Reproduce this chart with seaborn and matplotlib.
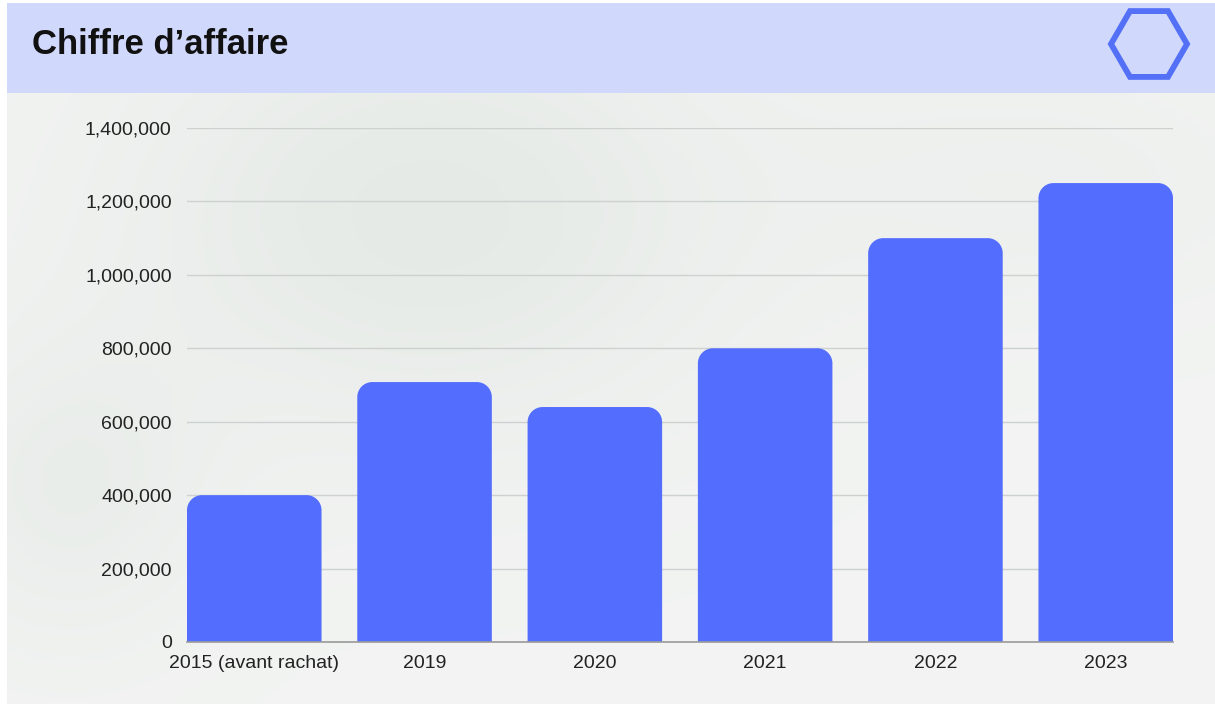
import numpy as np
import pandas as pd
import matplotlib
matplotlib.use("Agg")
import matplotlib.pyplot as plt
import seaborn as sns
from matplotlib.path import Path
from matplotlib.patches import PathPatch, Rectangle, RegularPolygon
from matplotlib.ticker import FuncFormatter

categories = ["2015 (avant rachat)", "2019", "2020", "2021", "2022", "2023"]
values = [400000, 708000, 640000, 800000, 1100000, 1250000]
yticks = [0, 200000, 400000, 600000, 800000, 1000000, 1200000, 1400000]
title = "Chiffre d\u2019affaire"

W, H, DPI = 1215, 709, 100
sns.set_theme(style="white")
plt.rcParams["font.family"] = ["Liberation Sans", "DejaVu Sans"]

fig = plt.figure(figsize=(W / DPI, H / DPI), dpi=DPI, facecolor="white")

# background texture (decorative)
bg = fig.add_axes([7 / W, 5 / H, (W - 7) / W, (H - 93 - 5) / H])
bg.set_axis_off()
yy, xx = np.mgrid[0:1:300j, 0:1:600j]
field = (0.55 * np.exp(-(((xx - 0.35) / 0.25) ** 2 + ((yy - 0.8) / 0.35) ** 2))
         + 0.35 * np.exp(-(((xx - 0.05) / 0.12) ** 2 + ((yy - 0.35) / 0.25) ** 2))
         + 0.2 * np.exp(-(((xx - 0.85) / 0.2) ** 2 + ((yy - 0.85) / 0.2) ** 2)))
base = np.array([0.950, 0.955, 0.950])
dark = np.array([0.860, 0.890, 0.870])
img = base[None, None, :] * (1 - field[..., None]) + dark[None, None, :] * field[..., None]
bg.imshow(np.clip(img, 0, 1), aspect="auto", origin="lower", extent=[0, 1, 0, 1])

# header band
fig.patches.append(Rectangle((7 / W, (H - 93) / H), (W - 7) / W, 90 / H,
                             transform=fig.transFigure, facecolor="#d0d8fc",
                             edgecolor="none", zorder=-1))
fig.text(32 / W, (H - 45) / H, title, fontsize=25, fontweight="bold",
         color="#111111", va="center", ha="left", zorder=5)
hexax = fig.add_axes([0, 0, 1, 1], zorder=5)
hexax.patch.set_alpha(0)
hexax.set_xlim(0, W)
hexax.set_ylim(H, 0)
hexax.set_axis_off()
hexax.add_patch(RegularPolygon((1149, 44), numVertices=6, radius=38,
                               orientation=np.pi / 6, facecolor="none",
                               edgecolor="#5470f6", linewidth=4.2))

# main chart
ax = fig.add_axes([187 / W, (H - 642) / H, 986 / W, 514 / H])
ax.patch.set_alpha(0)
df = pd.DataFrame({"cat": categories, "val": values})
sns.barplot(data=df, x="cat", y="val", color="#536dfe", saturation=1,
            width=0.79, ax=ax, zorder=3)

ax.set_xlim(-0.395, len(categories) - 1 + 0.395)
ax.set_ylim(0, 1400000)
ax.set_yticks(yticks)
ax.yaxis.set_major_formatter(FuncFormatter(lambda v, p: f"{int(v):,}"))
ax.set_xlabel("")
ax.set_ylabel("")
ax.grid(axis="y", color="#cdd1cf", linewidth=1, zorder=0)
for s in ["top", "right", "left"]:
    ax.spines[s].set_visible(False)
ax.spines["bottom"].set_color("#9a9a9a")
ax.spines["bottom"].set_linewidth(1.2)
ax.spines["bottom"].set_zorder(4)
ax.tick_params(axis="y", length=0, pad=11, labelsize=14, labelcolor="#222222")
ax.tick_params(axis="x", length=0, pad=9, labelsize=14, labelcolor="#222222")

# round top corners of bars
fig.canvas.draw()
rx = 15 / 170.3
ry = 15 / 367.1 * 1e6
for p in list(ax.patches):
    x0, y0 = p.get_x(), p.get_y()
    w, h = p.get_width(), p.get_height()
    x1, y1 = x0 + w, y0 + h
    k = 0.5523
    verts = [(x0, y0), (x0, y1 - ry),
             (x0, y1 - ry + k * ry), (x0 + rx - k * rx, y1), (x0 + rx, y1),
             (x1 - rx, y1),
             (x1 - rx + k * rx, y1), (x1, y1 - ry + k * ry), (x1, y1 - ry),
             (x1, y0), (x0, y0)]
    codes = [Path.MOVETO, Path.LINETO,
             Path.CURVE4, Path.CURVE4, Path.CURVE4,
             Path.LINETO,
             Path.CURVE4, Path.CURVE4, Path.CURVE4,
             Path.LINETO, Path.CLOSEPOLY]
    newp = PathPatch(Path(verts, codes), facecolor=p.get_facecolor(),
                     edgecolor="none", zorder=3)
    p.remove()
    ax.add_patch(newp)

fig.savefig("out.png", dpi=DPI, facecolor="white")
